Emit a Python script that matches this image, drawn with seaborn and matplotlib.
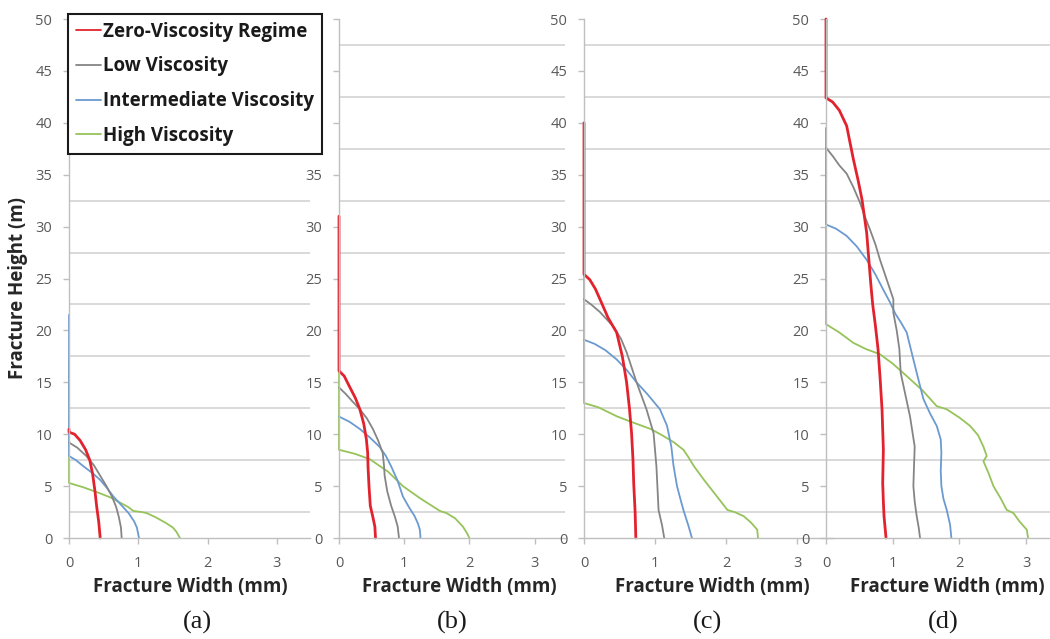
import numpy as np
import pandas as pd
import matplotlib
matplotlib.use("Agg")
import matplotlib.pyplot as plt
from matplotlib.lines import Line2D
import seaborn as sns

# ---------------- data: fracture width (mm) vs height (m) ----------------
SERIES = ["Zero-Viscosity Regime", "Low Viscosity", "Intermediate Viscosity", "High Viscosity"]
PANELS = ["(a)", "(b)", "(c)", "(d)"]

# panel (a)
zero_a_w = [0, 0, 0.08, 0.16, 0.24, 0.30, 0.34, 0.375, 0.40, 0.43, 0.45]
zero_a_h = [10.5, 10.2, 10.0, 9.4, 8.5, 7.5, 6.2, 4.5, 3.0, 1.5, 0]
low_a_w = [0, 0.12, 0.25, 0.36, 0.45, 0.54, 0.62, 0.68, 0.72, 0.75, 0.76]
low_a_h = [9.2, 8.7, 7.9, 7.0, 6.0, 5.0, 4.0, 3.0, 2.0, 1.0, 0]
mid_a_w = [0, 0, 0.10, 0.21, 0.33, 0.45, 0.55, 0.64, 0.75, 0.86, 0.94, 0.98, 1.01]
mid_a_h = [21.5, 7.9, 7.5, 6.9, 6.3, 5.6, 4.8, 4.0, 3.2, 2.4, 1.6, 1.0, 0]
high_a_w = [0, 0, 0.20, 0.45, 0.60, 0.74, 0.85, 0.93, 1.05, 1.12, 1.25, 1.41, 1.50, 1.55, 1.60]
high_a_h = [17.0, 5.3, 4.9, 4.3, 3.9, 3.4, 3.0, 2.6, 2.5, 2.4, 2.0, 1.4, 1.0, 0.6, 0]

# panel (b)
zero_b_w = [0, 0, 0.08, 0.16, 0.25, 0.32, 0.38, 0.42, 0.44, 0.445, 0.46, 0.48, 0.52, 0.55, 0.56]
zero_b_h = [31.0, 16.1, 15.6, 14.6, 13.5, 12.4, 11.0, 9.5, 8.2, 6.9, 5.0, 3.1, 2.0, 1.1, 0]
low_b_w = [0, 0.10, 0.20, 0.32, 0.43, 0.52, 0.60, 0.67, 0.69, 0.70, 0.74, 0.80, 0.86, 0.90, 0.92]
low_b_h = [14.5, 13.9, 13.2, 12.4, 11.5, 10.5, 9.4, 8.2, 7.0, 6.0, 4.5, 3.1, 2.0, 1.1, 0]
mid_b_w = [0, 0.16, 0.32, 0.47, 0.62, 0.72, 0.80, 0.90, 0.98, 1.07, 1.16, 1.21, 1.24, 1.25]
mid_b_h = [11.7, 11.2, 10.5, 9.7, 8.8, 7.9, 6.9, 5.5, 4.0, 3.0, 2.1, 1.4, 0.8, 0]
high_b_w = [0, 0, 0.25, 0.47, 0.75, 0.98, 1.25, 1.55, 1.65, 1.78, 1.90, 1.96, 2.00]
high_b_h = [22.0, 8.5, 8.1, 7.6, 6.4, 5.0, 3.8, 2.6, 2.4, 1.9, 1.1, 0.5, 0]

# panel (c)
zero_c_w = [0, 0, 0.08, 0.16, 0.225, 0.34, 0.46, 0.54, 0.60, 0.64, 0.67, 0.69, 0.70, 0.72, 0.73]
zero_c_h = [40.0, 25.4, 24.9, 24.0, 23.0, 21.2, 19.8, 17.5, 15.0, 12.5, 10.1, 7.5, 5.3, 2.5, 0]
low_c_w = [0, 0.10, 0.22, 0.41, 0.52, 0.60, 0.74, 0.88, 0.98, 1.00, 1.02, 1.05, 1.10, 1.13]
low_c_h = [23.0, 22.5, 21.8, 20.4, 19.2, 17.9, 15.0, 12.4, 10.1, 8.5, 6.9, 2.7, 1.2, 0]
mid_c_w = [0, 0.15, 0.30, 0.46, 0.60, 0.74, 0.90, 1.07, 1.17, 1.23, 1.26, 1.31, 1.36, 1.40, 1.47, 1.52]
mid_c_h = [19.1, 18.7, 18.1, 17.2, 16.2, 15.0, 13.8, 12.4, 10.8, 8.8, 7.0, 5.0, 3.7, 2.7, 1.2, 0]
high_c_w = [0, 0, 0.20, 0.47, 0.70, 0.94, 1.10, 1.27, 1.40, 1.46, 1.55, 1.69, 1.85, 2.02,
            2.12, 2.25, 2.35, 2.44, 2.45]
high_c_h = [26.0, 13.0, 12.6, 11.7, 11.1, 10.5, 9.9, 9.2, 8.5, 7.9, 6.9, 5.6, 4.2, 2.7,
            2.5, 2.1, 1.5, 0.8, 0]

# panel (d)
zero_d_w = [0, 0, 0.10, 0.20, 0.31, 0.41, 0.48, 0.54, 0.61, 0.67, 0.70, 0.74, 0.78, 0.81,
            0.84, 0.86, 0.85, 0.86, 0.87, 0.90]
zero_d_h = [50.0, 42.4, 42.0, 41.2, 39.7, 36.5, 34.5, 32.6, 29.4, 24.6, 22.5, 20.5, 18.2, 15.5,
            12.4, 8.5, 5.3, 3.5, 2.1, 0]
low_d_w = [0, 0.10, 0.20, 0.31, 0.41, 0.51, 0.58, 0.66, 0.74, 0.81, 0.91, 1.01, 1.01, 1.06,
           1.10, 1.12, 1.15, 1.26, 1.33, 1.32, 1.31, 1.33, 1.36, 1.39, 1.41]
low_d_h = [37.6, 36.8, 35.9, 35.1, 33.8, 32.3, 31.0, 29.7, 28.3, 26.8, 24.9, 23.0, 21.7, 20.0,
           18.2, 15.9, 15.0, 11.7, 8.8, 7.0, 5.0, 3.5, 2.1, 1.0, 0]
mid_d_w = [0, 0, 0.15, 0.31, 0.46, 0.61, 0.74, 0.86, 0.96, 1.04, 1.12, 1.21, 1.31, 1.38,
           1.46, 1.56, 1.66, 1.72, 1.73, 1.72, 1.73, 1.76, 1.81, 1.86, 1.88]
mid_d_h = [39.5, 30.2, 29.8, 29.1, 28.1, 26.8, 25.4, 23.9, 22.7, 21.6, 20.8, 19.8, 17.2, 15.4,
           13.4, 12.0, 10.8, 9.5, 8.2, 6.5, 5.0, 3.8, 2.7, 1.3, 0]
high_d_w = [0, 0, 0.20, 0.41, 0.60, 0.81, 1.00, 1.21, 1.45, 1.66, 1.81, 2.00, 2.16, 2.28,
            2.36, 2.41, 2.36, 2.44, 2.51, 2.62, 2.71, 2.81, 2.90, 3.01, 3.03]
high_d_h = [30.0, 20.6, 19.8, 18.8, 18.2, 17.7, 16.8, 15.6, 14.2, 12.7, 12.4, 11.6, 10.8, 9.9,
            8.8, 7.9, 7.4, 6.2, 5.0, 3.8, 2.7, 2.4, 1.6, 0.8, 0]

Y_TICKS = [0, 5, 10, 15, 20, 25, 30, 35, 40, 45, 50]
X_TICKS = [0, 1, 2, 3]

profiles = {
    "(a)": [(zero_a_w, zero_a_h), (low_a_w, low_a_h), (mid_a_w, mid_a_h), (high_a_w, high_a_h)],
    "(b)": [(zero_b_w, zero_b_h), (low_b_w, low_b_h), (mid_b_w, mid_b_h), (high_b_w, high_b_h)],
    "(c)": [(zero_c_w, zero_c_h), (low_c_w, low_c_h), (mid_c_w, mid_c_h), (high_c_w, high_c_h)],
    "(d)": [(zero_d_w, zero_d_h), (low_d_w, low_d_h), (mid_d_w, mid_d_h), (high_d_w, high_d_h)],
}

rows = []
for panel, curves in profiles.items():
    for name, (w, h) in zip(SERIES, curves):
        for i, (wi, hi) in enumerate(zip(w, h)):
            rows.append({"panel": panel, "series": name, "idx": i, "width": wi, "height": hi})
df = pd.DataFrame(rows)

# ---------------- styling ----------------
sns.set_style("white")
plt.rcParams["font.family"] = ["Open Sans", "DejaVu Sans"]

COLORS = {
    "Zero-Viscosity Regime": "#E2232E",
    "Low Viscosity": "#858585",
    "Intermediate Viscosity": "#6B9AD0",
    "High Viscosity": "#96C35A",
}
WIDTHS = {
    "Zero-Viscosity Regime": 2.0,
    "Low Viscosity": 1.3,
    "Intermediate Viscosity": 1.3,
    "High Viscosity": 1.3,
}
DRAW_ORDER = ["High Viscosity", "Intermediate Viscosity", "Low Viscosity", "Zero-Viscosity Regime"]

TICK_COLOR = "#595959"
AXIS_COLOR = "#BFBFBF"
GRID_COLOR = "#D9D9D9"
TEXT_COLOR = "#262626"

W, H = 1050, 639
fig = plt.figure(figsize=(W / 100, H / 100), dpi=100)

# axes placement in pixels: (left, x-max in mm, px per mm)
layout = {
    "(a)": (69, 3.48, 69.3),
    "(b)": (339, 3.46, 65.2),
    "(c)": (584, 3.50, 71.0),
    "(d)": (826, 3.36, 66.7),
}
label_x = {"(a)": 190, "(b)": 459, "(c)": 712, "(d)": 947}
tag_x = {"(a)": 197, "(b)": 452, "(c)": 708, "(d)": 943}

y_bottom_px, y_top_px = 538, 19

for panel in PANELS:
    left, xmax, ppm = layout[panel]
    width_px = xmax * ppm
    ax = fig.add_axes([left / W, 1 - y_bottom_px / H, width_px / W, (y_bottom_px - y_top_px) / H])
    ax.patch.set_alpha(0)
    sub = df[df["panel"] == panel]
    sns.lineplot(data=sub, x="width", y="height", hue="series", hue_order=DRAW_ORDER,
                 units="series", estimator=None, sort=False, palette=COLORS,
                 legend=False, ax=ax)
    for line, name in zip(ax.lines, DRAW_ORDER):
        line.set_linewidth(WIDTHS[name])
        line.set_solid_joinstyle("round")
        line.set_clip_on(False)

    ax.set_xlim(0, xmax)
    ax.set_ylim(0, 50)
    ax.set_xticks(X_TICKS)
    ax.set_yticks(Y_TICKS)
    ax.set_yticks(np.arange(2.5, 50, 5), minor=True)
    ax.grid(False)
    ax.grid(True, which="minor", axis="y", color=GRID_COLOR, linewidth=1.4)
    ax.set_axisbelow(True)
    for s in ("top", "right"):
        ax.spines[s].set_visible(False)
    for s in ("left", "bottom"):
        ax.spines[s].set_color(AXIS_COLOR)
        ax.spines[s].set_linewidth(1.0)
    ax.tick_params(axis="both", which="major", length=4, width=1.0, color=AXIS_COLOR,
                   labelcolor=TICK_COLOR, labelsize=10.5)
    ax.tick_params(axis="both", which="minor", length=0)
    ax.tick_params(axis="y", which="major", direction="out", left=True, pad=8)
    ax.tick_params(axis="x", which="major", direction="out", bottom=True, pad=9)
    ax.set_xlabel("")
    ax.set_ylabel("")

    fig.text(label_x[panel] / W, 1 - 587 / H, "Fracture Width (mm)", ha="center", va="center",
             fontsize=13.5, fontweight="bold", color=TEXT_COLOR)
    fig.text(tag_x[panel] / W, 1 - 622 / H, panel, ha="center", va="center",
             fontsize=19, family="Liberation Serif", color="#1a1a1a")

fig.text(18 / W, 1 - 288 / H, "Fracture Height (m)", rotation=90, ha="center", va="center",
         fontsize=13.5, fontweight="bold", color=TEXT_COLOR)

handles = [Line2D([0], [0], color=COLORS[n], lw=1.3) for n in SERIES]
leg = fig.legend(handles, SERIES, loc="upper left", bbox_to_anchor=(68 / W, 1 - 14 / H),
                 frameon=True, fancybox=False, edgecolor="#1a1a1a", facecolor="white",
                 framealpha=1.0, prop={"weight": "bold", "size": 13.5},
                 handlelength=1.35, handletextpad=0.1, labelspacing=0.78,
                 borderpad=0.42, borderaxespad=0)
leg.get_frame().set_linewidth(1.5)
leg.set_zorder(10)
for t in leg.get_texts():
    t.set_color("#1a1a1a")

fig.savefig("out.png", dpi=100)
